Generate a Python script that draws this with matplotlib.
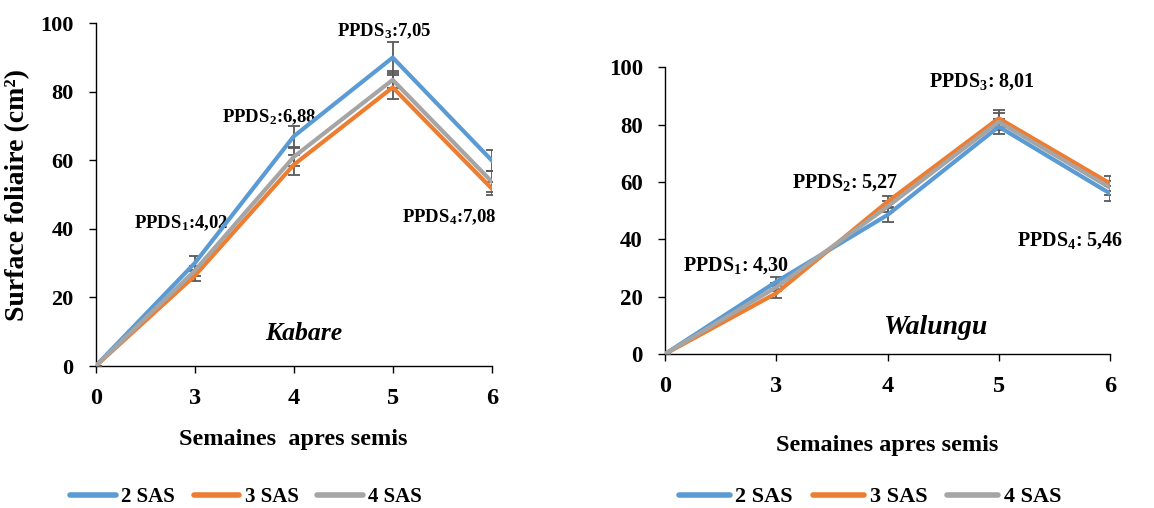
import matplotlib
matplotlib.use('Agg')
import matplotlib.pyplot as plt
from matplotlib.lines import Line2D

plt.rcParams['font.family'] = 'Liberation Serif'
plt.rcParams['font.weight'] = 'bold'
plt.rcParams['mathtext.fontset'] = 'custom'
plt.rcParams['mathtext.rm'] = 'Liberation Serif:bold'
plt.rcParams['mathtext.it'] = 'Liberation Serif:bold:italic'
plt.rcParams['mathtext.bf'] = 'Liberation Serif:bold'

weeks = ['0', '3', '4', '5', '6']
series = ['2 SAS', '3 SAS', '4 SAS']
colors = ['#5B9BD5', '#ED7D31', '#A5A5A5']

# Kabare
kab_2 = [0, 30, 67, 90, 60]
kab_3 = [0, 26.3, 58.7, 81.3, 51.8]
kab_4 = [0, 27.8, 61, 83.5, 53.8]
kab_err2 = [0, 2, 3, 4.5, 3]
kab_err3 = [0, 1.5, 3, 3.5, 2]
kab_err4 = [0, 1.5, 2.5, 2.5, 3]
kab_ppds = ['PPDS$_1$:4,02', 'PPDS$_2$:6,88', 'PPDS$_3$:7,05', 'PPDS$_4$:7,08']

# Walungu
wal_2 = [0, 25.2, 48.5, 79.3, 56]
wal_3 = [0, 21.2, 53.1, 82.2, 59.5]
wal_4 = [0, 23.3, 51.4, 81, 58]
wal_err2 = [0, 1.5, 2.5, 2.5, 2.5]
wal_err3 = [0, 1.5, 2, 3, 2.5]
wal_err4 = [0, 1.5, 2, 3, 2.5]
wal_ppds = ['PPDS$_1$: 4,30', 'PPDS$_2$: 5,27', 'PPDS$_3$: 8,01', 'PPDS$_4$: 5,46']

W, H = 1154, 508
fig = plt.figure(figsize=(W / 100, H / 100), dpi=100)

def px_axes(x0, x1, ytop, ybot):
    return fig.add_axes([x0 / W, 1 - ybot / H, (x1 - x0) / W, (ybot - ytop) / H])

ax1 = px_axes(95.7, 491.7, 23.3, 366)
ax2 = px_axes(665, 1110, 67.3, 354)

def draw(ax, vals, errs, ppds, ppds_pos, ppds_fs, site, site_pos, site_fs,
         ytick_fs, xlabel, xlab_pad):
    x = list(range(len(weeks)))
    for v, e, c in zip(vals, errs, colors):
        ax.errorbar(x, v, yerr=e, color=c, lw=3, ecolor='#595959',
                    elinewidth=1.3, capsize=4, capthick=1.3, zorder=3)
    for t, (px, py) in zip(ppds, ppds_pos):
        ax.text(px, py, t, ha='center', va='center', fontsize=ppds_fs, fontweight='bold')
    ax.text(site_pos[0], site_pos[1], site, ha='center', va='center',
            fontsize=site_fs, fontstyle='italic', fontweight='bold')
    ax.set_xlim(0, len(weeks) - 1)
    ax.set_ylim(0, 100)
    ax.set_xticks(x)
    ax.set_xticklabels(weeks, fontsize=17.5, fontweight='bold')
    ax.set_yticks([0, 20, 40, 60, 80, 100])
    ax.tick_params(axis='y', labelsize=ytick_fs, length=5, width=1, pad=11)
    ax.tick_params(axis='x', length=5, width=1, pad=11)
    for s in ['top', 'right']:
        ax.spines[s].set_visible(False)
    for s in ['left', 'bottom']:
        ax.spines[s].set_color('black')
        ax.spines[s].set_linewidth(1)
    ax.set_xlabel(xlabel, fontsize=17.5, fontweight='bold', labelpad=xlab_pad)

draw(ax1, [kab_2, kab_3, kab_4], [kab_err2, kab_err3, kab_err4], kab_ppds,
     [(0.86, 41.7), (1.75, 72.6), (2.91, 97.8), (3.57, 43.4)], 13.5,
     'Kabare', (2.10, 9.6), 18.5, 16, 'Semaines  apres semis', 14)
ax1.set_ylabel('Surface foliaire (cm²)', fontsize=20, fontweight='bold', labelpad=7)

draw(ax2, [wal_2, wal_3, wal_4], [wal_err2, wal_err3, wal_err4], wal_ppds,
     [(0.635, 31), (1.62, 59.7), (2.85, 94.9), (3.64, 39.7)], 14.5,
     'Walungu', (2.43, 9.2), 20, 16.5, 'Semaines apres semis', 27)

handles = [Line2D([0], [0], color=c, lw=4, solid_capstyle='round') for c in colors]
for cx, fs, hl in [(246 / W, 15, 2.2), (870 / W, 16, 2.3)]:
    fig.legend(handles, series, loc='center', bbox_to_anchor=(cx, 1 - 497 / H),
               ncol=3, frameon=False, handlelength=hl,
               handletextpad=0.25, columnspacing=0.9,
               prop={'weight': 'bold', 'size': fs})

fig.savefig('out.png', dpi=100, facecolor='white')
